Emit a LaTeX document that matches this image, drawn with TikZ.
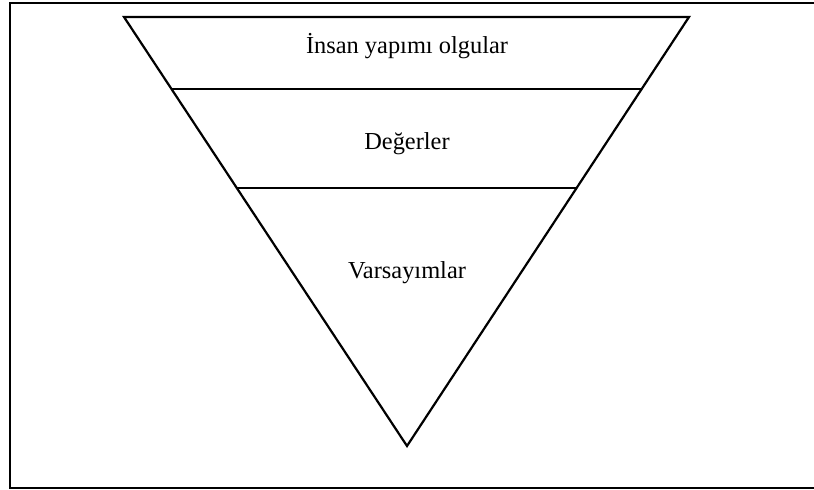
\documentclass[tikz,border=0pt]{standalone}
\usepackage{fontspec}
\setmainfont{Liberation Serif}
\begin{document}
\begin{tikzpicture}[x=1pt,y=-1pt,
  edge/.style={line width=2.2pt, line join=miter},
  frame/.style={line width=2.6pt},
  lbl/.style={font=\fontsize{24.4}{29}\selectfont, inner sep=0pt, anchor=base}]
\useasboundingbox (0,0) rectangle (814,490);
% frame (right edge lies beyond the picture)
\coordinate (fTL) at (10,3);
\coordinate (fTR) at (830,3);
\coordinate (fBL) at (10,488);
\coordinate (fBR) at (830,488);
\begin{scope}
\clip (0,0) rectangle (814,490);
\draw[frame] (fTR) -- (fTL) -- (fBL) -- (fBR);
\end{scope}
% triangle
\coordinate (tL) at (124,17);
\coordinate (tR) at (689,17);
\coordinate (tB) at (407,446);
\draw[edge] (tL) -- (tR) -- (tB) -- cycle;
% dividing lines
\coordinate (a1) at (171.5,89);
\coordinate (b1) at (641.5,89);
\coordinate (a2) at (236.8,188);
\coordinate (b2) at (576.6,188);
\draw[edge] (a1) -- (b1);
\draw[edge] (a2) -- (b2);
% labels
\node[lbl] (t1) at (407,53) {İnsan yapımı olgular};
\node[lbl] (t2) at (407,149) {Değerler};
\node[lbl] (t3) at (407,278) {Varsayımlar};
\end{tikzpicture}
\end{document}
